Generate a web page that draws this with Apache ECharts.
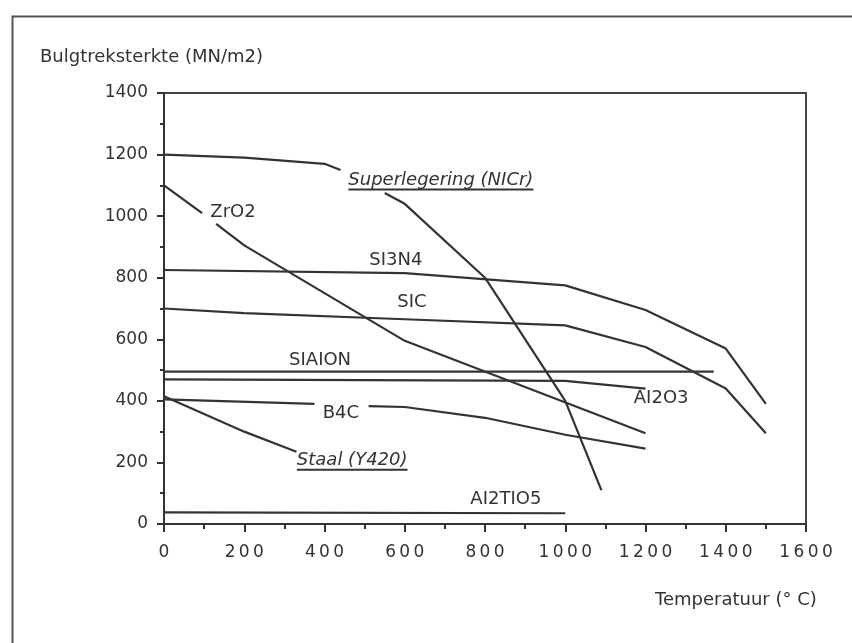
<!DOCTYPE html>
<html>
<head>
<meta charset="utf-8">
<script src="https://cdn.jsdelivr.net/npm/echarts@6/dist/echarts.min.js"></script>
<style>
  html, body { margin: 0; padding: 0; background: #fff; }
  #chart { width: 852px; height: 643px; }
</style>
</head>
<body>
<div id="chart"></div>
<script>
// curves, [temperatuur, sterkte]; '-' breaks the line where a label sits
var superlegering = [[0, 1200], [200, 1190], [400, 1170], [440, 1150], [495, '-'], [550, 1075], [600, 1040], [800, 800], [1000, 400], [1090, 110]];
var zro2 = [[0, 1100], [95, 1010], [112, '-'], [130, 975], [200, 905], [600, 595], [1200, 295]];
var si3n4 = [[0, 825], [600, 815], [1000, 775], [1200, 695], [1400, 570], [1500, 390]];
var sic = [[0, 700], [200, 685], [600, 665], [1000, 645], [1200, 575], [1400, 440], [1500, 295]];
var sialon = [[0, 495], [1370, 495]];
var al2o3 = [[0, 470], [1000, 465], [1200, 440]];
var b4c = [[0, 405], [375, 390], [440, '-'], [510, 383], [600, 380], [800, 345], [1000, 290], [1200, 245]];
var staal = [[0, 415], [200, 300], [330, 235]];
var al2tio5 = [[0, 38], [1000, 35]];

var curveNames = ['Superlegering (NICr)', 'ZrO2', 'SI3N4', 'SIC', 'SIAION', 'AI2O3', 'B4C', 'Staal (Y420)', 'AI2TIO5'];
var curves = [superlegering, zro2, si3n4, sic, sialon, al2o3, b4c, staal, al2tio5];
var underlined = ['Superlegering (NICr)', 'Staal (Y420)'];

var FONT = '"DejaVu Sans", sans-serif';
var INK = '#333';

// where each curve name is written (data coordinates)
var labelAt = {
    'Superlegering (NICr)': [690, 1114],
    'ZrO2': [172, 1013],
    'SI3N4': [578, 857],
    'SIC': [618, 721],
    'SIAION': [389, 533],
    'AI2O3': [1239, 409],
    'B4C': [441, 360],
    'Staal (Y420)': [469, 204],
    'AI2TIO5': [852, 81]
};

var ctx = document.createElement('canvas').getContext('2d');
function textWidth(txt, font) {
    ctx.font = font;
    return ctx.measureText(txt).width;
}

var series = [];
curves.forEach(function (d, i) {
    series.push({
        name: curveNames[i],
        type: 'line',
        data: d,
        symbol: 'none',
        connectNulls: false,
        silent: true,
        lineStyle: { color: INK, width: 2.2 }
    });
});

var labelData = curveNames.map(function (n) {
    var isU = underlined.indexOf(n) >= 0;
    var item = { value: labelAt[n], name: n };
    if (isU) {
        var w = textWidth(n, 'italic 18px ' + FONT);
        item.label = {
            formatter: '{t|' + n + '}\n{u| }',
            rich: {
                t: { fontStyle: 'italic', fontSize: 18, fontFamily: FONT, color: INK, lineHeight: 17, textBorderWidth: 0 },
                u: { width: w, height: 2, lineHeight: 2, backgroundColor: INK, fontSize: 1 }
            }
        };
    }
    return item;
});

series.push({
    type: 'scatter',
    data: labelData,
    symbolSize: 0,
    silent: true,
    z: 5,
    label: {
        show: true,
        position: 'inside',
        formatter: '{b}',
        fontFamily: FONT,
        fontSize: 18,
        color: INK,
        textBorderWidth: 0,
        opacity: 1
    }
});

var dom = document.getElementById('chart');
var myChart = echarts.init(dom);

var option = {
    animation: false,
    backgroundColor: '#fff',
    grid: {
        left: 164, right: 46, top: 93, bottom: 119,
        show: true, borderColor: '#444', borderWidth: 2
    },
    xAxis: {
        type: 'value',
        min: 0, max: 1600, interval: 200,
        axisLine: { show: true, lineStyle: { color: INK, width: 2 } },
        axisTick: { show: true, length: 8, lineStyle: { color: INK, width: 2 } },
        minorTick: { show: true, splitNumber: 2, length: 5, lineStyle: { color: INK, width: 2 } },
        splitLine: { show: false },
        axisLabel: {
            margin: 20, fontSize: 17, fontFamily: FONT, color: INK,
            formatter: function (v) { return String(v).split('').join('\u2009'); }
        }
    },
    yAxis: {
        type: 'value',
        min: 0, max: 1400, interval: 200,
        axisLine: { show: true, lineStyle: { color: INK, width: 2 } },
        axisTick: { show: true, length: 7, lineStyle: { color: INK, width: 2 } },
        minorTick: { show: true, splitNumber: 2, length: 4, lineStyle: { color: INK, width: 2 } },
        splitLine: { show: false },
        axisLabel: {
            margin: 16, fontSize: 17, fontFamily: FONT, color: INK,
            formatter: function (v) { return String(v); }
        }
    },
    graphic: [
        {
            type: 'rect', left: 10, top: 14, silent: true,
            shape: { width: 1000, height: 1000 },
            style: { fill: 'none', stroke: '#555', lineWidth: 2 }
        },
        {
            type: 'text', left: 40, top: 48,
            style: { text: 'Bulgtreksterkte (MN/m2)', font: '18px ' + FONT, fill: INK }
        },
        {
            type: 'text', left: 655, top: 591,
            style: { text: 'Temperatuur (\u00b0 C)', font: '18px ' + FONT, fill: INK }
        }
    ],
    series: series
};

if (option && typeof option === "object") {
    myChart.setOption(option, true);
}
</script>
</body>
</html>
